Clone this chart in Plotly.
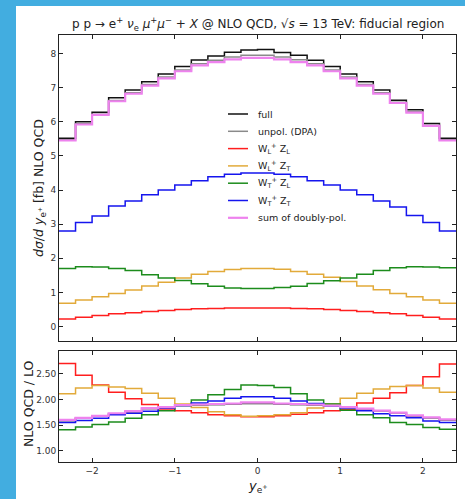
import plotly.graph_objects as go

# ---------------- data ----------------
edges = [-2.4, -2.2, -2.0, -1.8, -1.6, -1.4, -1.2, -1.0, -0.8, -0.6, -0.4, -0.2, 0.0,
         0.2, 0.4, 0.6, 0.8, 1.0, 1.2, 1.4, 1.6, 1.8, 2.0, 2.2, 2.4]

# top panel: d sigma / d y_e+ [fb] at NLO QCD
full = [5.52, 6.00, 6.28, 6.70, 6.93, 7.17, 7.40, 7.62, 7.81, 7.93, 8.04, 8.10,
        8.12, 8.03, 7.95, 7.80, 7.62, 7.40, 7.17, 6.93, 6.63, 6.35, 5.95, 5.52]
unpol = [5.47, 5.94, 6.22, 6.62, 6.85, 7.09, 7.31, 7.52, 7.70, 7.80, 7.90, 7.95,
         7.95, 7.90, 7.82, 7.70, 7.52, 7.31, 7.09, 6.85, 6.57, 6.29, 5.90, 5.47]
wlzl = [0.22, 0.27, 0.32, 0.37, 0.40, 0.44, 0.47, 0.50, 0.52, 0.53, 0.54, 0.54,
        0.54, 0.54, 0.53, 0.52, 0.50, 0.47, 0.44, 0.40, 0.37, 0.32, 0.27, 0.22]
wlzt = [0.68, 0.78, 0.87, 0.97, 1.07, 1.19, 1.30, 1.42, 1.53, 1.61, 1.67, 1.70,
        1.70, 1.68, 1.61, 1.53, 1.44, 1.32, 1.19, 1.08, 0.97, 0.87, 0.78, 0.68]
wtzl = [1.70, 1.75, 1.74, 1.70, 1.64, 1.52, 1.42, 1.35, 1.25, 1.18, 1.13, 1.11,
        1.11, 1.14, 1.18, 1.26, 1.34, 1.42, 1.53, 1.64, 1.72, 1.75, 1.74, 1.72]
wtzt = [2.80, 3.05, 3.24, 3.53, 3.68, 3.86, 4.00, 4.15, 4.27, 4.39, 4.46, 4.50,
        4.50, 4.46, 4.39, 4.27, 4.15, 4.00, 3.86, 3.68, 3.50, 3.25, 3.05, 2.80]
dsum = [5.45, 5.92, 6.20, 6.60, 6.82, 7.06, 7.27, 7.48, 7.65, 7.75, 7.83, 7.87,
        7.87, 7.83, 7.75, 7.65, 7.48, 7.27, 7.06, 6.82, 6.55, 6.27, 5.88, 5.45]

# bottom panel: NLO QCD / LO
r_full = [1.59, 1.63, 1.67, 1.72, 1.76, 1.82, 1.84, 1.88, 1.89, 1.90, 1.91, 1.92,
          1.92, 1.91, 1.90, 1.89, 1.87, 1.84, 1.81, 1.77, 1.73, 1.68, 1.64, 1.60]
r_unpol = [1.59, 1.63, 1.67, 1.72, 1.76, 1.82, 1.84, 1.88, 1.89, 1.90, 1.91, 1.93,
           1.93, 1.91, 1.90, 1.89, 1.87, 1.84, 1.81, 1.77, 1.73, 1.68, 1.64, 1.60]
r_wlzl = [2.70, 2.47, 2.28, 2.14, 2.01, 1.90, 1.81, 1.78, 1.74, 1.70, 1.68, 1.66,
          1.66, 1.68, 1.71, 1.74, 1.78, 1.80, 1.93, 2.02, 2.13, 2.27, 2.44, 2.69]
r_wlzt = [2.11, 2.22, 2.27, 2.24, 2.21, 2.12, 2.02, 1.91, 1.84, 1.76, 1.70, 1.67,
          1.68, 1.70, 1.74, 1.83, 1.91, 2.02, 2.12, 2.20, 2.25, 2.27, 2.22, 2.14]
r_wtzl = [1.41, 1.46, 1.51, 1.56, 1.63, 1.70, 1.78, 1.89, 1.99, 2.09, 2.19, 2.28,
          2.27, 2.23, 2.11, 1.99, 1.91, 1.79, 1.70, 1.64, 1.55, 1.51, 1.45, 1.42]
r_wtzt = [1.55, 1.59, 1.63, 1.70, 1.73, 1.77, 1.83, 1.88, 1.93, 1.97, 2.02, 2.05,
          2.05, 2.02, 1.97, 1.92, 1.87, 1.83, 1.78, 1.72, 1.68, 1.64, 1.58, 1.55]
r_dsum = [1.60, 1.64, 1.68, 1.73, 1.77, 1.83, 1.85, 1.89, 1.90, 1.91, 1.92, 1.94,
          1.94, 1.92, 1.91, 1.90, 1.88, 1.85, 1.82, 1.78, 1.74, 1.69, 1.65, 1.61]

labels = ["full", "unpol. (DPA)",
          "W<sub>L</sub><sup>+</sup> Z<sub>L</sub>",
          "W<sub>L</sub><sup>+</sup> Z<sub>T</sub>",
          "W<sub>T</sub><sup>+</sup> Z<sub>L</sub>",
          "W<sub>T</sub><sup>+</sup> Z<sub>T</sub>",
          "sum of doubly-pol."]
colors = ["#111111", "#8a8a8a", "#ff1e1e", "#e2aa3a", "#1c8c1c", "#1515ee", "#ee82ee"]
widths = [1.5, 1.5, 1.5, 1.5, 1.5, 1.5, 2.2]

top_series = [full, unpol, wlzl, wlzt, wtzl, wtzt, dsum]
bot_series = [r_full, r_unpol, r_wlzl, r_wlzt, r_wtzl, r_wtzt, r_dsum]

FONT = "DejaVu Sans"
fig = go.Figure()

for vals, col, w, name in zip(top_series, colors, widths, labels):
    fig.add_trace(go.Scatter(x=edges, y=list(vals) + [vals[-1]], mode="lines",
                             line=dict(color=col, width=w, shape="hv"),
                             name=name, showlegend=False, xaxis="x", yaxis="y"))
for vals, col, w, name in zip(bot_series, colors, widths, labels):
    fig.add_trace(go.Scatter(x=edges, y=list(vals) + [vals[-1]], mode="lines",
                             line=dict(color=col, width=w, shape="hv"),
                             name=name, showlegend=False, xaxis="x2", yaxis="y2"))

W, H = 465, 499
L, R, T, B = 59, 9, 35, 37
pw, ph = W - L - R, H - T - B

axis_common = dict(showline=True, linecolor="#222", linewidth=1, mirror="ticks",
                   ticks="inside", ticklen=4, tickcolor="#222", showgrid=False,
                   zeroline=False, tickfont=dict(family=FONT, size=9, color="#333"))

fig.update_layout(
    width=W, height=H,
    margin=dict(l=L, r=R, t=T, b=B),
    paper_bgcolor="#42ade0",
    plot_bgcolor="rgba(0,0,0,0)",
    xaxis=dict(domain=[0, 1], anchor="y", range=[-2.4, 2.4], tickvals=[-2, -1, 0, 1, 2],
               showticklabels=False, **axis_common),
    yaxis=dict(domain=[(H - B - 341) / ph, 1], anchor="x", range=[-0.425, 8.542],
               tickvals=[0, 1, 2, 3, 4, 5, 6, 7, 8], **axis_common),
    xaxis2=dict(domain=[0, 1], anchor="y2", range=[-2.4, 2.4], tickvals=[-2, -1, 0, 1, 2],
                ticktext=["\u22122", "\u22121", "0", "1", "2"], **axis_common),
    yaxis2=dict(domain=[0, (H - B - 350.5) / ph], anchor="x2", range=[0.78, 2.952],
                tickvals=[1.0, 1.5, 2.0, 2.5], tickformat=".2f", **axis_common),
    showlegend=False,
)

def px_x(p):
    return (p - L) / pw

def px_y(p):
    return (H - B - p) / ph

# white page on the blue slide background
fig.add_shape(type="rect", xref="paper", yref="paper",
              x0=px_x(16), x1=px_x(470), y0=px_y(505), y1=px_y(6),
              fillcolor="white", line=dict(width=0), layer="below")

# title
fig.add_annotation(xref="paper", yref="paper", x=px_x(257.5), y=px_y(24),
                   xanchor="center", yanchor="middle", showarrow=False,
                   text="p p \u2192 e<sup>+</sup> <i>\u03bd</i><sub>e</sub> <i>\u03bc</i><sup>+</sup><i>\u03bc</i><sup>\u2212</sup> + <i>X</i> @ NLO QCD, \u221a<i>s</i> = 13 TeV: fiducial region",
                   font=dict(family=FONT, size=12, color="#222"))

# axis titles
fig.add_annotation(xref="paper", yref="paper", x=px_x(40), y=px_y(188),
                   xanchor="center", yanchor="middle", showarrow=False, textangle=-90,
                   text="<i>d\u03c3</i>/<i>d y</i><sub>e<sup>+</sup></sub> [fb] NLO QCD",
                   font=dict(family=FONT, size=12.5, color="#222"))
fig.add_annotation(xref="paper", yref="paper", x=px_x(28), y=px_y(404),
                   xanchor="center", yanchor="middle", showarrow=False, textangle=-90,
                   text="NLO QCD / LO",
                   font=dict(family=FONT, size=12.5, color="#222"))
fig.add_annotation(xref="paper", yref="paper", x=px_x(257.5), y=px_y(486),
                   xanchor="center", yanchor="middle", showarrow=False,
                   text="<i>y</i><sub>e<sup>+</sup></sub>",
                   font=dict(family=FONT, size=13, color="#222"))

# manual legend inside the top panel
leg_y0 = 114
leg_dy = 17.3
for i, (name, col, w) in enumerate(zip(labels, colors, widths)):
    yy = px_y(leg_y0 + i * leg_dy)
    fig.add_shape(type="line", xref="paper", yref="paper",
                  x0=px_x(228), x1=px_x(248), y0=yy, y1=yy,
                  line=dict(color=col, width=w))
    fig.add_annotation(xref="paper", yref="paper", x=px_x(256), y=yy,
                       xanchor="left", yanchor="middle", showarrow=False,
                       text=name, font=dict(family=FONT, size=9.5, color="#222"))

fig.write_html("out.html")
